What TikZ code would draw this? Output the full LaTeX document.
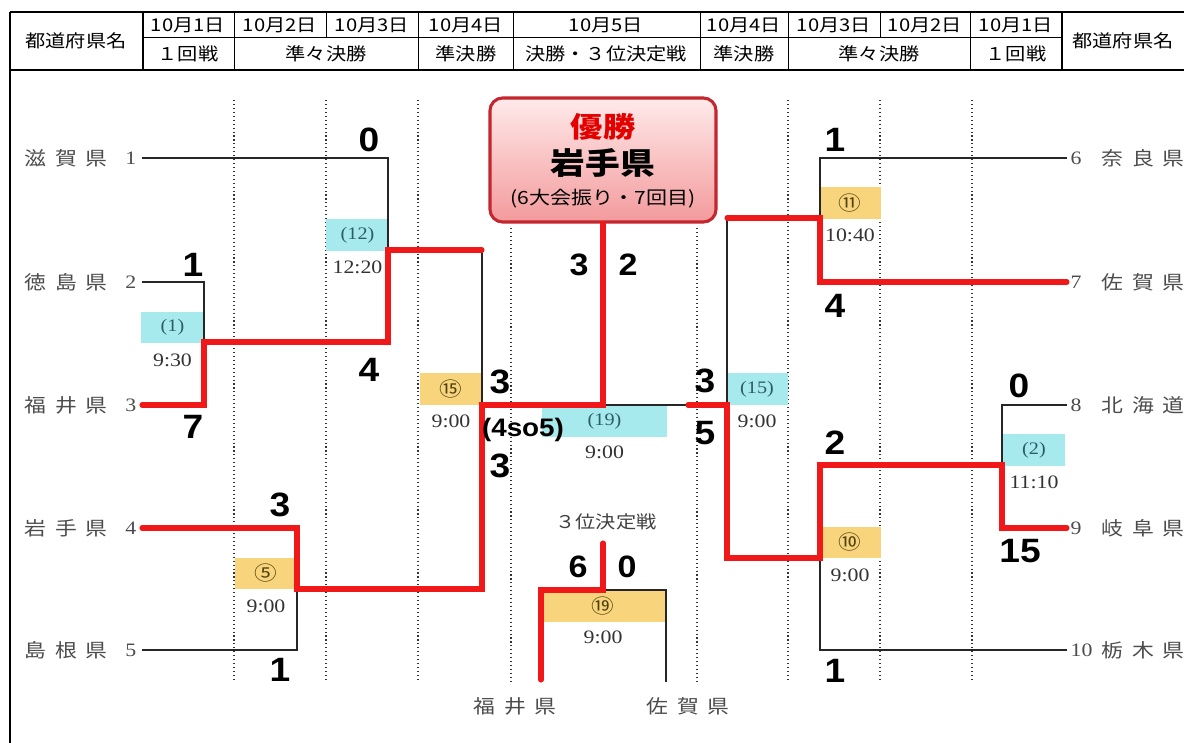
\documentclass[tikz,border=0pt]{standalone}
\usepackage{fontspec}
\setmainfont{Liberation Serif}[FakeStretch=1.15]
\newfontfamily\jpf{Noto Sans CJK JP}[FakeStretch=1.15]
\newfontfamily\numf{Liberation Sans}[FakeStretch=1.1]
\usepackage{tikz}
\usetikzlibrary{positioning, calc}
\definecolor{winred}{HTML}{F01818}
\definecolor{boxcyan}{HTML}{A6EAEE}
\definecolor{boxyel}{HTML}{F8D47C}
\definecolor{champframe}{HTML}{C3262E}
\definecolor{champtop}{HTML}{FFEAEA}
\definecolor{champbot}{HTML}{F39A9C}
\definecolor{noteal}{HTML}{2D5C68}
\definecolor{noolive}{HTML}{4F4210}
\newcommand{\pref}[3]{#1\hspace{0.45em}#2\hspace{0.45em}#3}
\tikzset{
  win/.style={line width=3.6pt, draw=winred, line cap=round},
  lose/.style={line width=0.9pt, draw=black!85},
  dotline/.style={line width=0.8pt, dotted, draw=black!80},
  frameline/.style={line width=2pt},
  cellline/.style={line width=0.6pt},
  head/.style={font=\jpf\fontsize{12.5}{14}\selectfont},
  team/.style={font=\jpf\fontsize{13.5}{14}\selectfont, text=black!70},
  seed/.style={font=\fontsize{13.5}{14}\selectfont, text=black!70, inner sep=1pt},
  score/.style={font=\numf\bfseries\fontsize{24}{24}\selectfont},
  clock/.style={font=\fontsize{13.5}{14}\selectfont, text=black!80, inner sep=1pt},
  gamebox/.style={inner sep=0pt, minimum width=1.55cm, minimum height=0.78cm},
  cyanbox/.style={gamebox, fill=boxcyan, text=noteal, font=\fontsize{12.5}{13}\selectfont},
  yelbox/.style={gamebox, fill=boxyel, text=noolive, font=\jpf\fontsize{14}{14}\selectfont},
  champ/.style={rounded corners=9pt, draw=champframe, line width=2.2pt, top color=champtop, bottom color=champbot, minimum width=5.65cm, minimum height=3.1cm},
}

\begin{document}
\begin{tikzpicture}[x=0.025cm, y=-0.025cm]
\useasboundingbox (0,0) rectangle (1184,743);
\draw[frameline] (10,12) -- (1184,12);
\draw[frameline] (10,70) -- (1184,70);
\draw[frameline] (10,12) -- (10,743);
\draw[line width=1.4pt] (143,12) -- (143,70);
\draw[line width=1.4pt] (1062,12) -- (1062,70);
\draw[cellline] (143,37) -- (1062,37);
\foreach \x in {234,418,513,700,788,970} \draw[cellline] (\x,12) -- (\x,70);
\foreach \x in {326,880} \draw[cellline] (\x,12) -- (\x,37);
\node[head] (hdL) at (76,41) {都道府県名};
\node[head] (hdR) at (1123,41) {都道府県名};
\foreach \x/\d [count=\i] in {188/1,280/2,372/3,466/4,606/5,744/4,834/3,925/2,1016/1}
  \node[head] (day\i) at (\x,25) {10月\d 日};
\node[head] (rd1) at (188,54) {１回戦};
\node[head] (rd2) at (326,54) {準々決勝};
\node[head] (rd3) at (466,54) {準決勝};
\node[head] (rd4) at (606,54) {決勝・３位決定戦};
\node[head] (rd5) at (744,54) {準決勝};
\node[head] (rd6) at (879,54) {準々決勝};
\node[head] (rd7) at (1016,54) {１回戦};
\foreach \x in {234,326,418,788,880,972} \draw[dotline] (\x,100) -- (\x,682);
\foreach \x in {511,697} \draw[dotline] (\x,228) -- (\x,682);
\node[cyanbox] (g1) at (172.5,327.5) {(1)};
\node[cyanbox] (g12) at (357.5,235) {(12)};
\node[yelbox] (g15L) at (451,389) {⑮};
\node[yelbox] (g5) at (266,573.5) {⑤};
\node[cyanbox, minimum width=3.125cm] (g19) at (604.5,421.5) {(19)};
\node[yelbox] (g11) at (850,203) {⑪};
\node[cyanbox] (g15R) at (757,389) {(15)};
\node[cyanbox] (g2) at (1034,450) {(2)};
\node[yelbox] (g10) at (850,542.5) {⑩};
\node[yelbox, minimum width=3.1cm] (g19b) at (603,606) {⑲};
\node[clock, below=6pt of g1] (t1) {9:30};
\node[clock, below=6pt of g12] (t12) {12:20};
\node[clock, below=6pt of g15L] (t15L) {9:00};
\node[clock, below=6pt of g5] (t5) {9:00};
\node[clock, below=5pt of g19] (t19) {9:00};
\node[clock, below=6pt of g11] (t11) {10:40};
\node[clock, below=6pt of g15R] (t15R) {9:00};
\node[clock, below=6pt of g2] (t2) {11:10};
\node[clock, below=6pt of g10] (t10) {9:00};
\node[clock, below=5pt of g19b] (t19b) {9:00};
\node[champ] (champ) at (603,160) {};
\node[font=\jpf\bfseries\fontsize{20}{20}\selectfont, text=red!90!black] (yusho) at (603,127) {優勝};
\node[font=\jpf\bfseries\fontsize{21.5}{22}\selectfont] (winner) at (603,163) {岩手県};
\node[font=\jpf\fontsize{13}{14}\selectfont] (since) at (603,199) {(6大会振り・7回目)};
\foreach \y/\n/\p in {158/1/\pref{滋}{賀}{県}, 282/2/\pref{徳}{島}{県}, 405/3/\pref{福}{井}{県}, 528/4/\pref{岩}{手}{県}, 650/5/\pref{島}{根}{県}} {
  \node[team] (nameL\n) at (66,\y) {\p};
  \node[seed, anchor=east] (seedL\n) at (138,\y) {\n};
  \coordinate (L\n) at (142,\y);
}
\foreach \y/\n/\p in {158/6/\pref{奈}{良}{県}, 282/7/\pref{佐}{賀}{県}, 405/8/\pref{北}{海}{道}, 528/9/\pref{岐}{阜}{県}, 650/10/\pref{栃}{木}{県}} {
  \node[team] (nameR\n) at (1143,\y) {\p};
  \node[seed, anchor=west] (seedR\n) at (1069,\y) {\n};
  \coordinate (R\n) at (1067,\y);
}
\coordinate (m1) at (204,342);
\coordinate (m12) at (388,250);
\coordinate (m5) at (297,589);
\coordinate (sfL) at (482,405);
\coordinate (m11) at (820,218);
\coordinate (m2) at (1002,465);
\coordinate (m10) at (820,558);
\coordinate (sfR) at (727,405);
\coordinate (fin) at (603,405);
\coordinate (fmid) at (688,405);
\coordinate (third) at (603,590);
\draw[lose] (L2) -| (m1);
\draw[lose] (L1) -| (m12);
\draw[lose] (L5) -| (m5);
\draw[lose] (m12 -| sfL) -- (sfL);
\draw[lose] (R6) -| (m11);
\draw[lose] (R8) -| (m2);
\draw[lose] (R10) -| (m10);
\draw[lose] (m11 -| sfR) -- (sfR);
\draw[lose] (fin) -- (fmid);
\draw[lose] (third) -| (666,682);
\draw[win] (L3) -| (m1) -| (m12) -- (m12 -| sfL);
\draw[win] (L4) -| (m5) -| (sfL) -- (fin) -- (champ.south);
\draw[win] (R7) -| (m11) -- (m11 -| sfR);
\draw[win] (R9) -| (m2) -| (m10) -| (sfR) -- (fmid);
\draw[win] (603,543) -- (third) -| (541,680);
\node[score] (sc1) at (193,265) {1};
\node[score] (sc2) at (193,427) {7};
\node[score] (sc3) at (369,140) {0};
\node[score] (sc4) at (369,370) {4};
\node[score] (sc5) at (280,505) {3};
\node[score] (sc6) at (280,670) {1};
\node[score] (sc7) at (500,382) {3};
\node[score, font=\numf\bfseries\fontsize{18}{18}\selectfont] (sc8) at (523,430) {(4so5)};
\node[score] (sc9) at (500,466) {3};
\node[score, font=\numf\bfseries\fontsize{22}{22}\selectfont] (sc10) at (579,265) {3};
\node[score, font=\numf\bfseries\fontsize{22}{22}\selectfont] (sc11) at (628,265) {2};
\node[score] (sc12) at (705,381) {3};
\node[score] (sc13) at (705,433) {5};
\node[score] (sc14) at (835,140) {1};
\node[score] (sc15) at (835,306) {4};
\node[score] (sc16) at (1019,386) {0};
\node[score] (sc17) at (1020,551) {15};
\node[score] (sc18) at (835,443) {2};
\node[score] (sc19) at (835,671) {1};
\node[head, text=black!75] (bronze) at (606,522) {３位決定戦};
\node[score, font=\numf\bfseries\fontsize{22}{22}\selectfont] (sc20) at (578,567) {6};
\node[score, font=\numf\bfseries\fontsize{22}{22}\selectfont] (sc21) at (627,567) {0};
\node[team] (thirdL) at (515,706) {\pref{福}{井}{県}};
\node[team] (thirdR) at (688,706) {\pref{佐}{賀}{県}};
\end{tikzpicture}
\end{document}
